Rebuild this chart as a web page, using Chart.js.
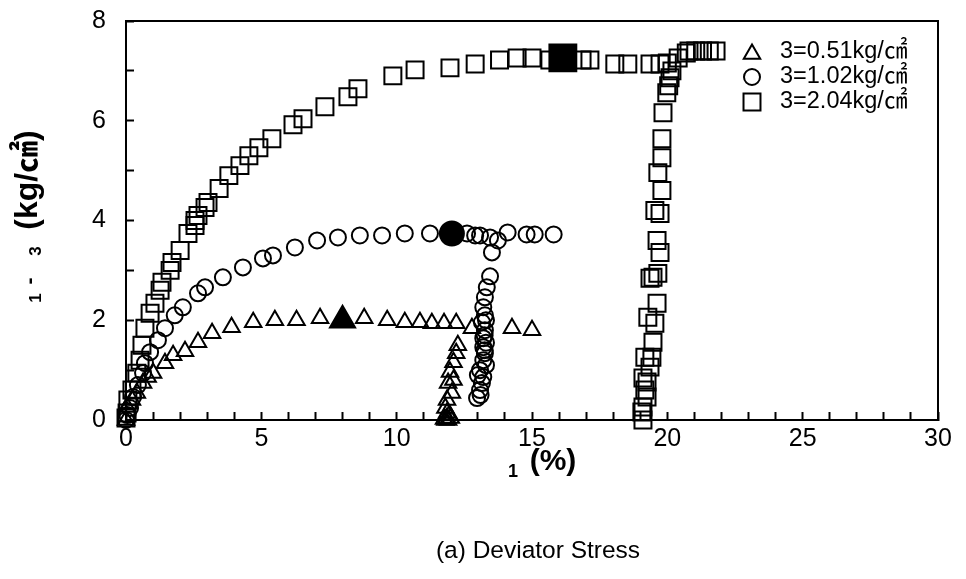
<!DOCTYPE html>
<html>
<head>
<meta charset="utf-8">
<script src="https://cdn.jsdelivr.net/npm/chart.js@4.4.1/dist/chart.umd.min.js"></script>
<style>
html, body { margin: 0; padding: 0; background: #fff; }
</style>
</head>
<body>
<canvas id="chart" width="966" height="579"></canvas>
<script>
// 轴范围
const xRange = [0, 30];
const yRange = [0, 8];

// 图例文字 (σ3 的 σ 在原图中没有显示)
const legendLabels = ['3=0.51kg/㎠', '3=1.02kg/㎠', '3=2.04kg/㎠'];

// σ3 = 0.51 : [应变 %, 偏应力]
const tri051 = [
    [0, 0], [0.04, 0.26], [0.22, 0.4], [0.4, 0.54], [0.63, 0.74], [0.8, 0.86],
    [1.0, 0.94], [1.44, 1.14], [1.74, 1.3], [2.18, 1.38], [2.66, 1.56], [3.18, 1.74],
    [3.9, 1.86], [4.7, 1.96], [5.5, 2.0], [6.3, 2.0], [7.17, 2.04], [8.8, 2.04],
    [9.65, 2.0], [10.3, 1.96], [10.86, 1.96], [11.3, 1.94], [11.75, 1.94], [12.2, 1.94],
    [12.78, 1.84], [14.26, 1.84], [15.0, 1.8],
    // 卸载-再加载
    [11.8, 0], [11.75, 0.02], [11.85, 0.03], [11.9, 0.0], [12.0, 0.04], [11.95, 0.1],
    [11.86, 0.14], [11.8, 0.24], [11.86, 0.4], [12.04, 0.54], [11.9, 0.74], [12.1, 0.8],
    [11.97, 0.96], [12.1, 1.16], [12.2, 1.34], [12.26, 1.5]
];
const peak051 = [[8.0, 2.0]];

// σ3 = 1.02
const cir102 = [
    [0, 0], [0.05, 0.1], [0.15, 0.24], [0.26, 0.46], [0.44, 0.7], [0.63, 0.94],
    [0.7, 1.14], [0.89, 1.36], [1.18, 1.6], [1.44, 1.84], [1.8, 2.1], [2.1, 2.26],
    [2.66, 2.54], [2.92, 2.66], [3.58, 2.86], [4.32, 3.06], [5.06, 3.24], [5.43, 3.3],
    [6.24, 3.46], [7.06, 3.6], [7.83, 3.66], [8.64, 3.7], [9.46, 3.7], [10.3, 3.74],
    [11.23, 3.74], [12.6, 3.74], [12.9, 3.7], [13.08, 3.7], [13.45, 3.66], [13.74, 3.6],
    [13.52, 3.36], [14.1, 3.76], [14.8, 3.72], [15.1, 3.72], [15.8, 3.72],
    // 卸载-再加载
    [13.45, 2.88], [13.33, 2.66], [13.26, 2.46], [13.2, 2.26], [13.26, 2.1], [13.15, 1.96],
    [13.3, 2.0], [13.26, 1.8], [13.25, 1.7], [13.2, 1.64], [13.3, 1.55], [13.2, 1.46],
    [13.25, 1.4], [13.26, 1.34], [13.2, 1.2], [13.3, 1.1], [13.08, 1.0], [13.0, 0.9],
    [13.2, 0.86], [13.15, 0.74], [13.08, 0.6], [13.1, 0.5], [12.97, 0.44]
];
const peak102 = [[12.04, 3.74]];

// σ3 = 2.04
const sq204 = [
    [0, 0.04], [0.04, 0.14], [0.07, 0.4], [0.22, 0.6], [0.4, 0.94], [0.52, 1.2],
    [0.59, 1.5], [0.7, 1.84], [0.89, 2.14], [1.07, 2.34], [1.26, 2.6], [1.33, 2.76],
    [1.63, 3.0], [1.7, 3.16], [2.0, 3.4], [2.29, 3.74], [2.55, 3.9], [2.55, 4.0],
    [2.66, 4.1], [2.92, 4.26], [3.03, 4.36], [3.44, 4.64], [3.8, 4.9], [4.21, 5.1],
    [4.54, 5.3], [4.91, 5.46], [5.39, 5.64], [6.17, 5.92], [6.54, 6.04], [7.35, 6.28],
    [8.2, 6.48], [8.57, 6.64], [9.86, 6.9], [10.68, 7.02], [11.97, 7.06], [12.9, 7.14],
    [13.8, 7.22], [14.45, 7.26], [15.0, 7.26], [15.66, 7.22], [16.85, 7.22], [17.14, 7.22],
    [18.06, 7.14], [18.54, 7.14], [19.36, 7.14], [19.73, 7.14], [20.0, 7.16], [20.4, 7.26],
    [20.7, 7.36], [20.8, 7.4], [21.05, 7.4], [21.3, 7.4], [21.55, 7.4], [21.8, 7.4],
    // 卸载-再加载
    [20.17, 7.0], [20.1, 6.86], [20.05, 6.7], [19.98, 6.56], [19.84, 6.16], [19.8, 5.64],
    [19.8, 5.26], [19.65, 4.96], [19.8, 4.6], [19.54, 4.2], [19.73, 4.14], [19.62, 3.6],
    [19.73, 3.36], [19.47, 2.86], [19.36, 2.84], [19.65, 2.94], [19.62, 2.34], [19.28, 2.06],
    [19.54, 1.94], [19.47, 1.56], [19.17, 1.26], [19.43, 1.26], [19.36, 1.06], [19.1, 0.84],
    [19.25, 0.76], [19.17, 0.6], [19.25, 0.46], [19.1, 0.26], [19.06, 0.16], [19.1, 0.0]
];
const peak204 = [[16.14, 7.26]];

const FONT = "'Liberation Sans', Arial, 'Noto Sans CJK KR', sans-serif";

// 标记大小
const triR = 9.5, cirR = 8, sqR = 12;

function toXY(list) {
    return list.map(p => ({ x: p[0], y: p[1] }));
}

function series(list, style, radius, filled) {
    return {
        data: toXY(list),
        showLine: false,
        pointStyle: style,
        pointRadius: radius,
        pointBorderWidth: 2,
        borderColor: '#000',
        backgroundColor: filled ? '#000' : 'rgba(0,0,0,0)',
        clip: false
    };
}

// 图例标记
function drawMarker(ctx, style, x, y, r) {
    ctx.beginPath();
    if (style === 'triangle') {
        ctx.moveTo(x, y - r);
        ctx.lineTo(x + 0.866 * r, y + 0.5 * r);
        ctx.lineTo(x - 0.866 * r, y + 0.5 * r);
        ctx.closePath();
    } else if (style === 'circle') {
        ctx.arc(x, y, r, 0, Math.PI * 2);
    } else {
        const h = r * Math.SQRT1_2;
        ctx.rect(x - h, y - h, 2 * h, 2 * h);
    }
    ctx.stroke();
}

function rotText(ctx, txt, x, y, font) {
    ctx.save();
    ctx.translate(x, y);
    ctx.rotate(-Math.PI / 2);
    ctx.font = font;
    ctx.fillText(txt, 0, 0);
    ctx.restore();
}

// 边框、轴标题、图例
const decorPlugin = {
    id: 'decor',
    afterDraw(chart) {
        const ctx = chart.ctx;
        const a = chart.chartArea;
        ctx.save();
        ctx.strokeStyle = '#000';
        ctx.fillStyle = '#000';
        ctx.lineWidth = 2;
        ctx.beginPath();
        ctx.moveTo(a.left, a.top);
        ctx.lineTo(a.right, a.top);
        ctx.lineTo(a.right, a.bottom);
        ctx.stroke();

        ctx.textAlign = 'center';
        ctx.textBaseline = 'middle';

        // y 轴标题
        rotText(ctx, '1', 36, 298, 'bold 17px ' + FONT);
        rotText(ctx, '-', 30, 281, 'bold 21px ' + FONT);
        rotText(ctx, '3', 36, 251, 'bold 17px ' + FONT);
        rotText(ctx, '(kg/㎠)', 28, 180, 'bold 32px ' + FONT);

        // x 轴标题
        ctx.font = 'bold 18px ' + FONT;
        ctx.fillText('1', 513, 472);
        ctx.font = 'bold 30px ' + FONT;
        ctx.fillText('(%)', 553, 462);

        ctx.font = '24.5px ' + FONT;
        ctx.fillText('(a) Deviator Stress', 538, 551);

        // 图例
        const styles = ['triangle', 'circle', 'rect'];
        const radii = [triR, cirR, sqR];
        ctx.textAlign = 'left';
        ctx.font = '23.5px ' + FONT;
        legendLabels.forEach((label, i) => {
            const y = 52 + i * 25;
            drawMarker(ctx, styles[i], 752, y + (i === 0 ? 2 : 0), radii[i]);
            ctx.fillText(label, 780, y);
        });
        ctx.restore();
    }
};

const tickFont = { family: FONT, size: 25 };

new Chart(document.getElementById('chart'), {
    type: 'scatter',
    data: {
        datasets: [
            series(tri051, 'triangle', triR, false),
            series(cir102, 'circle', cirR, false),
            series(sq204, 'rect', sqR, false),
            series(peak051, 'triangle', 14.5, true),
            series(peak102, 'circle', 12, true),
            series(peak204, 'rect', 19, true)
        ]
    },
    options: {
        responsive: false,
        animation: false,
        events: [],
        layout: { padding: { left: 0, right: 28, top: 20, bottom: 0 } },
        plugins: {
            legend: { display: false },
            tooltip: { enabled: false }
        },
        scales: {
            x: {
                type: 'linear',
                min: xRange[0],
                max: xRange[1],
                afterFit: s => { s.height = 159; s.paddingLeft = 0; s.paddingRight = 0; },
                border: { color: '#000', width: 2 },
                grid: { drawOnChartArea: false, tickLength: -8, tickWidth: 2, tickColor: '#000' },
                ticks: {
                    stepSize: 1,
                    autoSkip: false,
                    maxRotation: 0,
                    padding: 12,
                    color: '#000',
                    font: tickFont,
                    callback: v => (v % 5 === 0 ? v : '')
                }
            },
            y: {
                type: 'linear',
                min: yRange[0],
                max: yRange[1],
                afterFit: s => { s.width = 126; s.paddingTop = 0; s.paddingBottom = 0; },
                border: { color: '#000', width: 2 },
                grid: { drawOnChartArea: false, tickLength: -8, tickWidth: 2, tickColor: '#000' },
                ticks: {
                    stepSize: 1,
                    autoSkip: false,
                    padding: 28,
                    color: '#000',
                    font: tickFont,
                    callback: v => (v % 2 === 0 ? v : '')
                }
            }
        }
    },
    plugins: [decorPlugin]
});
</script>
</body>
</html>
